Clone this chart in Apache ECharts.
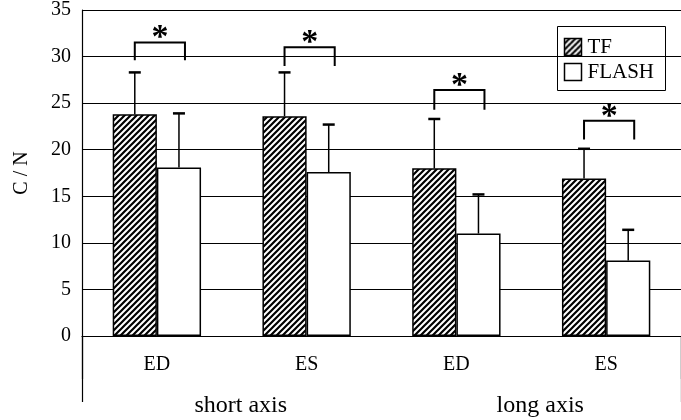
<!DOCTYPE html>
<html>
<head>
<meta charset="utf-8">
<script src="https://cdn.jsdelivr.net/npm/echarts@6/dist/echarts.min.js"></script>
<style>
html,body{margin:0;padding:0;background:#fff;}
#chart{width:681px;height:420px;}
</style>
</head>
<body>
<div id="chart"></div>
<script>
// ---- data ----
const categories = ['ED', 'ES', 'ED', 'ES'];
const groups = ['short axis', 'long axis'];
const seriesNames = ['TF', 'FLASH'];
const tfValues = [23.8, 23.6, 18.0, 16.9];
const tfSD = [4.5, 4.7, 5.3, 3.2];
const flashValues = [18.1, 17.6, 11.0, 8.1];
const flashSD = [5.8, 5.1, 4.2, 3.3];
const bracketTop = [31.5, 31.0, 26.4, 23.1];
const bracketLeg = [29.6, 29.0, 24.3, 21.1];
const yTicks = [0, 5, 10, 15, 20, 25, 30, 35];

// ---- styling ----
const FONT = 'Liberation Serif';
const LEGEND_FONT = 'Times New Roman';
const GAP = 0.41;

function hatch() {
  const s = 6;
  const c = document.createElement('canvas');
  c.width = s; c.height = s;
  const g = c.getContext('2d');
  g.fillStyle = '#fff';
  g.fillRect(0, 0, s, s);
  g.strokeStyle = '#000';
  g.lineWidth = 2.2;
  g.beginPath();
  g.moveTo(-1, s + 1); g.lineTo(s + 1, -1);
  g.moveTo(-1, 1); g.lineTo(1, -1);
  g.moveTo(s - 1, s + 1); g.lineTo(s + 1, s - 1);
  g.stroke();
  return c;
}
const hatchFill = { image: hatch(), repeat: 'repeat' };
const seriesFills = [hatchFill, '#fff'];

const chart = echarts.init(document.getElementById('chart'), null, { renderer: 'canvas' });

function errRender(sideSign) {
  return function (params, api) {
    const i = api.value(0);
    const base = api.coord([i, api.value(1)]);
    const top = api.coord([i, api.value(1) + api.value(2)]);
    const band = api.size([1, 0])[0];
    const bw = band * (1 - GAP) / 2;
    const cx = base[0] + sideSign * bw / 2;
    return {
      type: 'group',
      children: [
        { type: 'line', shape: { x1: cx, y1: base[1], x2: cx, y2: top[1] }, style: { stroke: '#000', lineWidth: 1.5 } },
        { type: 'line', shape: { x1: cx - 6, y1: top[1], x2: cx + 6, y2: top[1] }, style: { stroke: '#000', lineWidth: 2.5 } }
      ]
    };
  };
}

function bracketRender(params, api) {
  const i = api.value(0);
  const t = api.coord([i, api.value(1)]);
  const l = api.coord([i, api.value(2)]);
  const band = api.size([1, 0])[0];
  const bw = band * (1 - GAP) / 2;
  const x1 = t[0] - bw / 2;
  const x2 = t[0] + bw / 2 + 6;
  return {
    type: 'group',
    children: [
      { type: 'polyline', shape: { points: [[x1, l[1]], [x1, t[1]], [x2, t[1]], [x2, l[1]]] }, style: { stroke: '#000', lineWidth: 2, fill: null } },
      { type: 'text', style: { text: '*', x: (x1 + x2) / 2, y: t[1] - 4, align: 'center', verticalAlign: 'middle', font: 'bold 34px "Liberation Serif"', fill: '#000' } }
    ]
  };
}

// legend box
const legendGraphic = {
  type: 'group', left: 557, top: 26, z: 100,
  children: [
    { type: 'rect', shape: { x: 0, y: 0, width: 108, height: 64 }, style: { fill: '#fff', stroke: '#000', lineWidth: 1 } }
  ].concat(seriesNames.flatMap((n, k) => [
    { type: 'rect', shape: { x: 7, y: 12 + k * 25, width: 17, height: 17 }, style: { fill: seriesFills[k], stroke: '#000', lineWidth: 1.5 } },
    { type: 'text', style: { text: n, x: 30, y: 20.5 + k * 25, verticalAlign: 'middle', align: 'left', fontFamily: LEGEND_FONT, fontSize: 21, fill: '#000' } }
  ]))
};

const option = {
  animation: false,
  backgroundColor: '#fff',
  textStyle: { fontFamily: FONT },
  grid: { left: 82, top: 7, width: 606, height: 329, containLabel: false },
  graphic: [legendGraphic],
  xAxis: [
    {
      type: 'category',
      data: categories,
      position: 'bottom',
      axisLine: { show: true, lineStyle: { color: '#000', width: 1.2 } },
      axisTick: { show: true, length: 43, interval: function (idx) { return idx === 2; }, lineStyle: { color: '#000', width: 1.2 } },
      axisLabel: { fontFamily: FONT, fontSize: 20, color: '#000', margin: 19 },
      splitLine: { show: false }
    },
    {
      type: 'category',
      data: groups,
      position: 'bottom',
      axisLine: { show: false },
      axisTick: { show: true, length: 66, interval: function (idx) { return idx === 0; }, lineStyle: { color: '#000', width: 1.2 } },
      axisLabel: { fontFamily: FONT, fontSize: 24, color: '#000', margin: 58, padding: [0, 0, 0, 18] },
      splitLine: { show: false }
    }
  ],
  yAxis: {
    type: 'value',
    min: 0, max: 35, interval: 5,
    name: 'C / N',
    nameLocation: 'middle',
    nameGap: 50,
    nameRotate: 90,
    nameTextStyle: { fontFamily: FONT, fontSize: 20, color: '#000' },
    axisLine: { show: true, lineStyle: { color: '#000', width: 1.2 } },
    axisTick: { show: false },
    axisLabel: { fontFamily: FONT, fontSize: 20, color: '#000', margin: 11, customValues: yTicks },
    splitLine: { show: true, lineStyle: { color: '#000', width: 1.2 } }
  },
  series: [
    {
      name: 'TF', type: 'bar', data: tfValues,
      barGap: '0%', barCategoryGap: (GAP * 100) + '%',
      itemStyle: { color: hatchFill, borderColor: '#000', borderWidth: 1.5 },
      z: 2
    },
    {
      name: 'FLASH', type: 'bar', data: flashValues,
      barGap: '0%', barCategoryGap: (GAP * 100) + '%',
      itemStyle: { color: '#fff', borderColor: '#000', borderWidth: 1.5 },
      z: 2
    },
    {
      type: 'custom', name: 'tfErr', xAxisIndex: 0,
      data: tfValues.map((v, i) => [i, v, tfSD[i]]),
      renderItem: errRender(-1), z: 3, silent: true,
      encode: { x: 0, y: 1 }
    },
    {
      type: 'custom', name: 'flashErr', xAxisIndex: 0,
      data: flashValues.map((v, i) => [i, v, flashSD[i]]),
      renderItem: errRender(1), z: 3, silent: true,
      encode: { x: 0, y: 1 }
    },
    {
      type: 'custom', name: 'sig', xAxisIndex: 0,
      data: bracketTop.map((v, i) => [i, v, bracketLeg[i]]),
      renderItem: bracketRender, z: 3, silent: true,
      encode: { x: 0, y: 1 }
    }
  ]
};
chart.setOption(option);
</script>
</body>
</html>
